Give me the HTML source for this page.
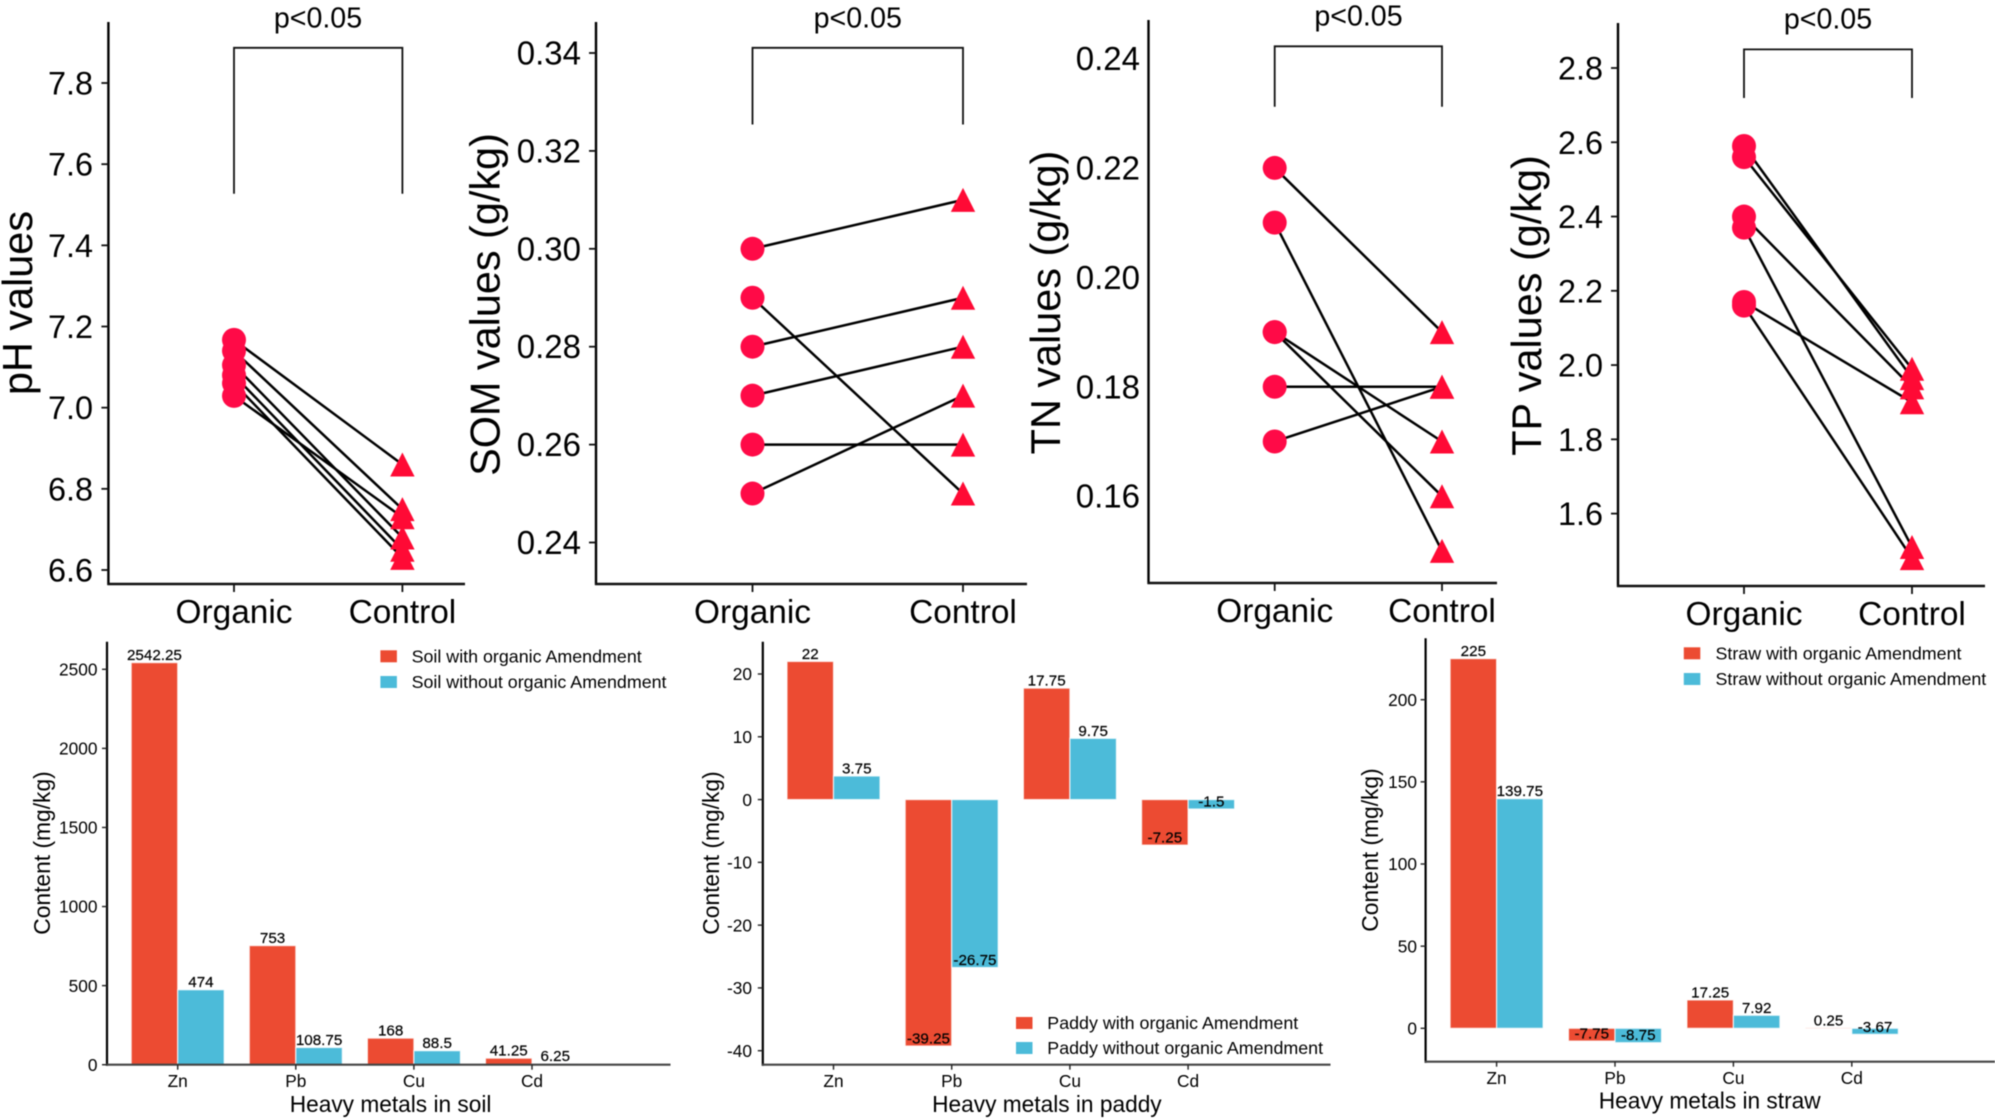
<!DOCTYPE html>
<html lang="en">
<head>
<meta charset="utf-8">
<title>Soil properties and heavy metals with and without organic amendment</title>
<style>
html,body{margin:0;padding:0;background:#fff;}
body{width:1995px;height:1120px;overflow:hidden;}
svg{display:block;filter:blur(0.45px);}
text{font-family:"Liberation Sans",Arial,sans-serif;fill:#000;}
</style>
</head>
<body>
<svg id="figure" xmlns="http://www.w3.org/2000/svg" width="1995" height="1120" viewBox="0 0 1995 1120"></svg>
<script>
// ---- Paired-sample panels: values ----
const pairGroups = ['Organic', 'Control'];

const phOrganic = [7.167, 7.14, 7.029, 7.105, 7.08, 7.06];
const phControl = [6.86, 6.75, 6.73, 6.68, 6.65, 6.63];
const phTicks = [6.6, 6.8, 7.0, 7.2, 7.4, 7.6, 7.8];

const somOrganic = [0.30, 0.29, 0.28, 0.27, 0.26, 0.25];
const somControl = [0.31, 0.25, 0.29, 0.28, 0.26, 0.27];
const somTicks = [0.24, 0.26, 0.28, 0.30, 0.32, 0.34];

const tnOrganic = [0.22, 0.21, 0.19, 0.19, 0.18, 0.17];
const tnControl = [0.19, 0.15, 0.17, 0.16, 0.18, 0.18];
const tnTicks = [0.16, 0.18, 0.20, 0.22, 0.24];

const tpOrganic = [2.59, 2.56, 2.40, 2.37, 2.17, 2.16];
const tpControl = [1.965, 1.99, 1.94, 1.51, 1.90, 1.48];
const tpTicks = [1.6, 1.8, 2.0, 2.2, 2.4, 2.6, 2.8];

// ---- Bar panels: values ----
const metals = ['Zn', 'Pb', 'Cu', 'Cd'];

const soilWith = [2542.25, 753, 168, 41.25];
const soilWithout = [474, 108.75, 88.5, 6.25];
const soilTicks = [0, 500, 1000, 1500, 2000, 2500];

const paddyWith = [22, -39.25, 17.75, -7.25];
const paddyWithout = [3.75, -26.75, 9.75, -1.5];
const paddyTicks = [-40, -30, -20, -10, 0, 10, 20];

const strawWith = [225, -7.75, 17.25, 0.25];
const strawWithout = [139.75, -8.75, 7.92, -3.67];
const strawTicks = [0, 50, 100, 150, 200];

const svgNS = 'http://www.w3.org/2000/svg';
const figure = document.getElementById('figure');

function make(tag, attrs, parent, content) {
  const el = document.createElementNS(svgNS, tag);
  for (const k in attrs) el.setAttribute(k, attrs[k]);
  if (content !== undefined) el.textContent = content;
  parent.appendChild(el);
  return el;
}
function linearScale(v0, p0, v1, p1) {
  return function (v) { return p0 + (v - v0) * (p1 - p0) / (v1 - v0); };
}

function drawPairedPanel(o) {
  const g = make('g', {}, figure);
  
  
  const y = linearScale(o.cal[0], o.cal[1], o.cal[2], o.cal[3]);
  const x = [o.orgX, o.ctlX];

  const yAxis = make('line', {x1: o.axisX, x2: o.axisX, y1: o.axisTop, y2: o.axisBottom + 1, stroke: '#000', 'stroke-width': 2.4}, g);
  
  
  const xAxis = make('line', {x1: o.axisX - 1, x2: o.axisRight, y1: o.axisBottom, y2: o.axisBottom, stroke: '#111', 'stroke-width': 2.6}, g);
  
  

  o.ticks.forEach(function (t) {
    if (o.showTicks) {
      const tm = make('line', {x1: o.axisX - 7, x2: o.axisX, y1: y(t), y2: y(t), stroke: '#111', 'stroke-width': 1.8}, g);
      
      
    }
    const lb = make('text', {x: o.labelRight, y: y(t) + 11.5, 'text-anchor': 'end', 'font-size': o.tickSize}, g, t.toFixed(o.decimals));
    
    
  });

  pairGroups.forEach(function (name, i) {
    const tm = make('line', {x1: x[i], x2: x[i], y1: o.axisBottom, y2: o.axisBottom + 8, stroke: '#111', 'stroke-width': 1.8}, g);
    
    
    const lb = make('text', {x: x[i], y: o.xLabelY, 'text-anchor': 'middle', 'font-size': 33.4}, g, name);
    
    
  });

  const title = make('text', {
    x: o.titleX, y: o.titleY, 'text-anchor': 'middle', 'font-size': 41.4,
    transform: 'rotate(-90 ' + o.titleX + ' ' + o.titleY + ')'
  }, g, o.title);
  
  

  const bracket = make('path', {
    d: 'M' + x[0] + ' ' + o.brBottom + 'V' + o.brTop + 'H' + x[1] + 'V' + o.brBottom,
    fill: 'none', stroke: '#111', 'stroke-width': 1.8
  }, g);
  
  
  const p = make('text', {x: o.pX, y: o.pY, 'text-anchor': 'middle', 'font-size': 28.6}, g, 'p<0.05');
  
  

  o.organic.forEach(function (v, i) {
    const ln = make('line', {x1: x[0], y1: y(v), x2: x[1], y2: y(o.control[i]), stroke: '#000', 'stroke-width': 2.5}, g);
    
    
  });
  o.organic.forEach(function (v) {
    const c = make('circle', {cx: x[0], cy: y(v), r: 12, fill: '#ff0a47'}, g);
    
    
  });
  o.control.forEach(function (v) {
    const cy = y(v), hw = 12.2, hh = 12;
    const pts = (x[1]) + ',' + (cy - hh) + ' ' + (x[1] + hw) + ',' + (cy + hh) + ' ' + (x[1] - hw) + ',' + (cy + hh);
    const t = make('polygon', {points: pts, fill: '#ff0a35'}, g);
    
    
  });
}

function drawBarPanel(o) {
  const g = make('g', {}, figure);
  
  
  const y = linearScale(o.cal[0], o.cal[1], o.cal[2], o.cal[3]);
  const x = linearScale(0, o.catX0, 1, o.catX0 + o.catStep);
  const barW = 46.5;
  const colors = ['#ec4b32', '#4cbbd9'];
  const series = [o.withVals, o.withoutVals];
  const seriesNames = ['with', 'without'];

  series.forEach(function (vals, s) {
    vals.forEach(function (v, i) {
      const left = x(i) + (s === 0 ? -barW : 0);
      const y0 = y(0), yv = y(v);
      const bar = make('rect', {
        x: left, y: Math.min(y0, yv), width: barW, height: Math.abs(yv - y0),
        fill: colors[s], stroke: '#fff', 'stroke-opacity': 0.75, 'stroke-width': 1.2
      }, g);
      
      
    });
  });
  series.forEach(function (vals, s) {
    vals.forEach(function (v, i) {
      const cx = x(i) + (s === 0 ? -barW / 2 : barW / 2);
      const lb = make('text', {x: cx, y: y(v) - 2.5, 'text-anchor': 'middle', 'font-size': 15.2, stroke: '#000', 'stroke-width': 0.2}, g, String(v));
      
      
    });
  });

  const yAxis = make('line', {x1: o.axisX, x2: o.axisX, y1: o.axisTop, y2: o.axisBottom + 1, stroke: '#000', 'stroke-width': 2.2}, g);
  
  
  const xAxis = make('line', {x1: o.axisX - 1, x2: o.axisRight, y1: o.axisBottom, y2: o.axisBottom, stroke: '#444', 'stroke-width': 2.2}, g);
  
  

  o.ticks.forEach(function (t) {
    const tm = make('line', {x1: o.axisX - 5, x2: o.axisX, y1: y(t), y2: y(t), stroke: '#222', 'stroke-width': 1.4}, g);
    
    
    const lb = make('text', {x: o.labelRight, y: y(t) + 6.2, 'text-anchor': 'end', 'font-size': 17.3}, g, String(t));
    
    
  });
  metals.forEach(function (m, i) {
    const tm = make('line', {x1: x(i), x2: x(i), y1: o.axisBottom, y2: o.axisBottom + 5, stroke: '#222', 'stroke-width': 1.4}, g);
    
    
    const lb = make('text', {x: x(i), y: o.xLabelY, 'text-anchor': 'middle', 'font-size': 17.3}, g, m);
    
    
  });

  const xt = make('text', {x: o.xTitleX, y: o.xTitleY, 'text-anchor': 'middle', 'font-size': 22.7}, g, o.xTitle);
  
  
  const yt = make('text', {
    x: o.yTitleX, y: o.yTitleY, 'text-anchor': 'middle', 'font-size': 22.8,
    transform: 'rotate(-90 ' + o.yTitleX + ' ' + o.yTitleY + ')'
  }, g, 'Content (mg/kg)');
  
  

  o.legendLabels.forEach(function (label, i) {
    const entry = make('g', {}, g);
    
    
    const cy = o.legendY + i * o.legendGap;
    const sw = make('rect', {x: o.legendX, y: cy - 6, width: 16.5, height: 12, fill: colors[i]}, entry);
    
    
    const tx = make('text', {x: o.legendTextX, y: cy + 6, 'font-size': 17.85}, entry, label);
    
    
  });
}

drawPairedPanel({
  key: 'ph', title: 'pH values', organic: phOrganic, control: phControl, ticks: phTicks, decimals: 1,
  cal: [7.8, 83, 6.6, 570], axisX: 108.4, axisTop: 22, axisBottom: 584, axisRight: 465,
  orgX: 234, ctlX: 402.4, labelRight: 93, tickSize: 32.4, showTicks: true, xLabelY: 623,
  titleX: 32, titleY: 303, brTop: 47.8, brBottom: 193.8, pX: 318, pY: 27.7
});
drawPairedPanel({
  key: 'som', title: 'SOM values (g/kg)', organic: somOrganic, control: somControl, ticks: somTicks, decimals: 2,
  cal: [0.34, 53, 0.24, 542.5], axisX: 596, axisTop: 22, axisBottom: 584, axisRight: 1027,
  orgX: 752.5, ctlX: 963, labelRight: 581, tickSize: 33, showTicks: true, xLabelY: 623,
  titleX: 499.5, titleY: 304.5, brTop: 47.8, brBottom: 124.5, pX: 857.8, pY: 27.7
});
drawPairedPanel({
  key: 'tn', title: 'TN values (g/kg)', organic: tnOrganic, control: tnControl, ticks: tnTicks, decimals: 2,
  cal: [0.24, 58.5, 0.16, 496.2], axisX: 1148.5, axisTop: 20, axisBottom: 583, axisRight: 1497,
  orgX: 1274.7, ctlX: 1442, labelRight: 1140, tickSize: 33, showTicks: false, xLabelY: 622,
  titleX: 1060, titleY: 302.5, brTop: 46.3, brBottom: 106.8, pX: 1358.5, pY: 25.7
});
drawPairedPanel({
  key: 'tp', title: 'TP values (g/kg)', organic: tpOrganic, control: tpControl, ticks: tpTicks, decimals: 1,
  cal: [2.8, 68, 1.6, 513.6], axisX: 1618, axisTop: 23, axisBottom: 586, axisRight: 1985,
  orgX: 1744, ctlX: 1912, labelRight: 1603, tickSize: 32.4, showTicks: true, xLabelY: 625,
  titleX: 1541, titleY: 305.5, brTop: 49.4, brBottom: 98, pX: 1828, pY: 28.5
});

drawBarPanel({
  key: 'soil', withVals: soilWith, withoutVals: soilWithout, ticks: soilTicks,
  cal: [0, 1064.7, 2500, 669.3], axisX: 107, axisTop: 641.7, axisBottom: 1064.7, axisRight: 670.5,
  catX0: 177.7, catStep: 118.1, labelRight: 97.5, xLabelY: 1087,
  xTitle: 'Heavy metals in soil', xTitleX: 390.6, xTitleY: 1112, yTitleX: 50, yTitleY: 853,
  legendLabels: ['Soil with organic Amendment', 'Soil without organic Amendment'],
  legendX: 380.4, legendTextX: 411.6, legendY: 656.3, legendGap: 25.7
});
drawBarPanel({
  key: 'paddy', withVals: paddyWith, withoutVals: paddyWithout, ticks: paddyTicks,
  cal: [20, 674, -40, 1050.7], axisX: 762.8, axisTop: 641.7, axisBottom: 1064.7, axisRight: 1330.5,
  catX0: 833.5, catStep: 118.2, labelRight: 752, xLabelY: 1087,
  xTitle: 'Heavy metals in paddy', xTitleX: 1046.9, xTitleY: 1112, yTitleX: 719, yTitleY: 853,
  legendLabels: ['Paddy with organic Amendment', 'Paddy without organic Amendment'],
  legendX: 1016, legendTextX: 1047.3, legendY: 1023, legendGap: 25
});
drawBarPanel({
  key: 'straw', withVals: strawWith, withoutVals: strawWithout, ticks: strawTicks,
  cal: [0, 1028.3, 200, 699.7], axisX: 1425.6, axisTop: 638.3, axisBottom: 1061.7, axisRight: 1995,
  catX0: 1496.6, catStep: 118.4, labelRight: 1417, xLabelY: 1084,
  xTitle: 'Heavy metals in straw', xTitleX: 1709.7, xTitleY: 1108.5, yTitleX: 1378, yTitleY: 850,
  legendLabels: ['Straw with organic Amendment', 'Straw without organic Amendment'],
  legendX: 1683.8, legendTextX: 1715.5, legendY: 653.3, legendGap: 25.7
});
</script>
</body>
</html>
